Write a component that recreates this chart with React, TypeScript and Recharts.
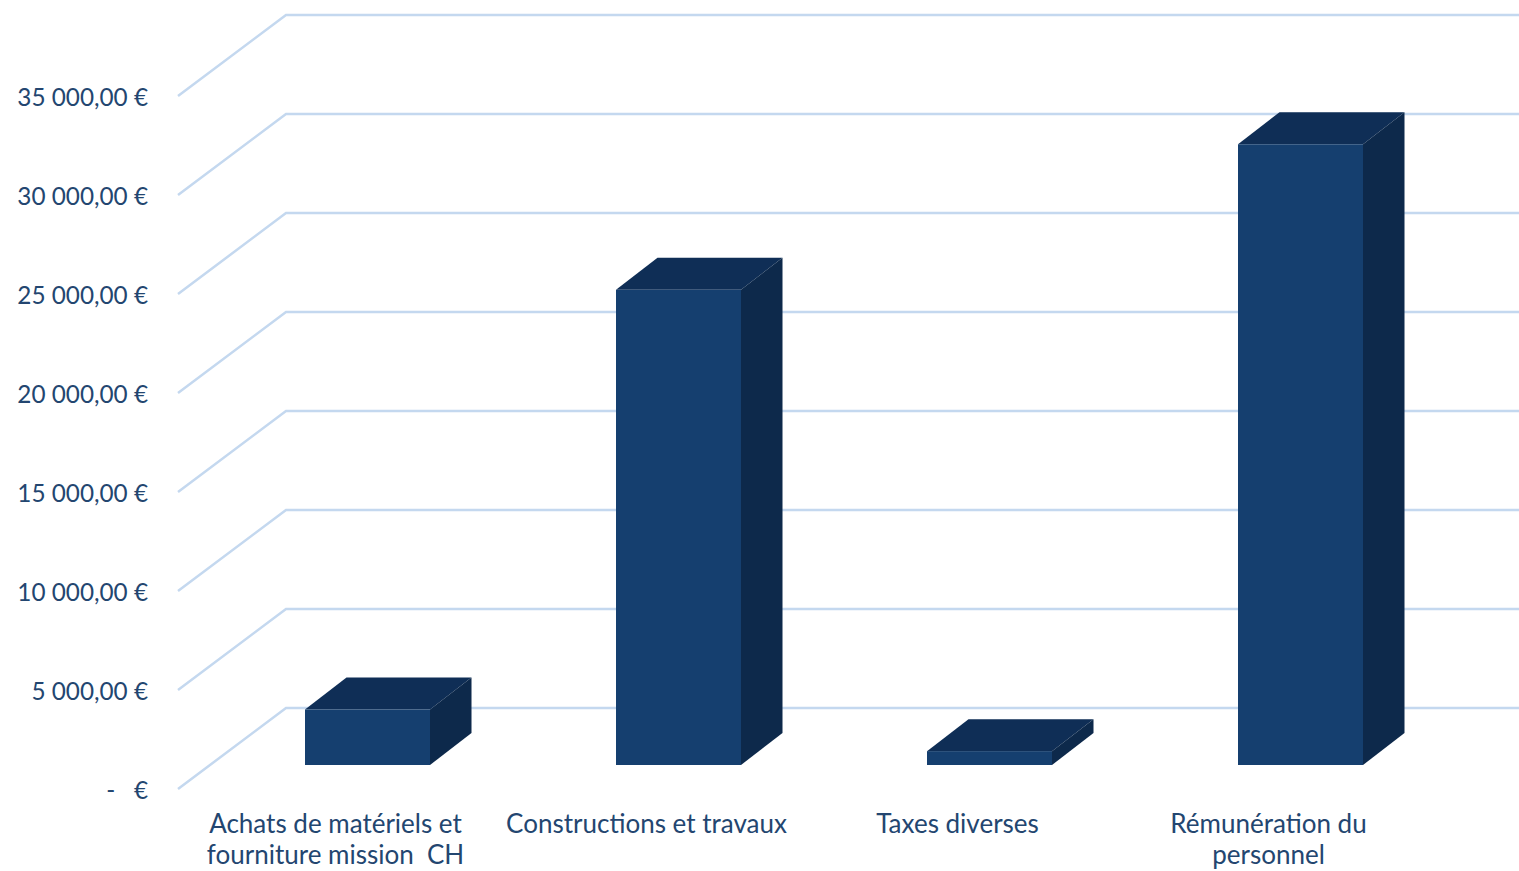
import React from 'react';
import { BarChart, Bar, XAxis, YAxis, CartesianGrid } from 'recharts';

const categories = [
  'Achats de matériels et fourniture mission  CH',
  'Constructions et travaux',
  'Taxes diverses',
  'Rémunération du personnel',
];
const categoryLines = [
  ['Achats de matériels et', 'fourniture mission  CH'],
  ['Constructions et travaux'],
  ['Taxes diverses'],
  ['Rémunération du', 'personnel'],
];
const amounts = [2800, 24000, 700, 31350];
const yTicks = [0, 5000, 10000, 15000, 20000, 25000, 30000, 35000];

const data = categories.map((c, i) => ({ name: c, value: amounts[i] }));

const W = 1519;
const H = 871;
const FONT = 'Lato, "Open Sans", sans-serif';
const TEXT = '#234670';
const GRID = '#c4d8ef';
const DEPTH_X = 108;
const DEPTH_Y = 81;
const BAR_OFF_X = 32;
const BAR_OFF_Y = 24;
const BAR_DX = 41.5;
const BAR_DY = 32;
const FRONT = '#153f6f';
const TOP = '#0f2e56';
const SIDE = '#0d294b';

function formatEuro(v: number) {
  if (v === 0) return '-   €';
  const s = Math.round(v).toString().replace(/\B(?=(\d{3})+(?!\d))/g, ' ');
  return `${s},00 €`;
}

const gridLine = (p: any) => {
  const { x1, y1, key } = p;
  const x0 = x1 - 2;
  return (
    <path
      key={key}
      d={`M${x0},${y1} L${x0 + DEPTH_X},${y1 - DEPTH_Y} L${W},${y1 - DEPTH_Y}`}
      fill="none"
      stroke={GRID}
      strokeWidth={2.5}
    />
  );
};

const Bar3D = (p: any) => {
  const { x, y, width, height } = p;
  const fx = x + BAR_OFF_X;
  const fy = y - BAR_OFF_Y;
  const w = width;
  const h = height;
  return (
    <g>
      <polygon
        points={`${fx},${fy} ${fx + BAR_DX},${fy - BAR_DY} ${fx + w + BAR_DX},${fy - BAR_DY} ${fx + w},${fy}`}
        fill={TOP}
      />
      <polygon
        points={`${fx + w},${fy} ${fx + w + BAR_DX},${fy - BAR_DY} ${fx + w + BAR_DX},${fy + h - BAR_DY} ${fx + w},${fy + h}`}
        fill={SIDE}
      />
      <rect x={fx} y={fy} width={w} height={h} fill={FRONT} />
    </g>
  );
};

const XTick = (p: any) => {
  const { x, payload } = p;
  const idx = categories.indexOf(payload.value);
  const lines = categoryLines[idx] || [String(payload.value)];
  return (
    <text
      x={x}
      y={833}
      textAnchor="middle"
      fill={TEXT}
      fontFamily={FONT}
      fontSize={26}
      style={{ whiteSpace: 'pre' }}
    >
      {lines.map((l, i) => (
        <tspan key={i} x={x} dy={i === 0 ? 0 : 31}>
          {l}
        </tspan>
      ))}
    </text>
  );
};

const YTick = (p: any) => {
  const { y, payload } = p;
  return (
    <text
      x={148}
      y={y + 10}
      textAnchor="end"
      fill={TEXT}
      fontFamily={FONT}
      fontSize={24.3}
      style={{ whiteSpace: 'pre' }}
    >
      {formatEuro(payload.value)}
    </text>
  );
};

export default function App() {
  return (
    <div style={{ position: 'absolute', left: 0, top: 0, width: W, height: H, background: '#fff' }}>
      <BarChart
        width={W}
        height={H}
        data={data}
        margin={{ top: 96, right: 95, bottom: 0, left: 0 }}
        barSize={125}
      >
        <CartesianGrid horizontal={gridLine} vertical={false} />
        <XAxis
          dataKey="name"
          height={82}
          axisLine={false}
          tickLine={false}
          interval={0}
          tick={<XTick />}
        />
        <YAxis
          width={180}
          domain={[0, 35000]}
          ticks={yTicks}
          axisLine={false}
          tickLine={false}
          tick={<YTick />}
          allowDataOverflow
        />
        <Bar dataKey="value" isAnimationActive={false} shape={<Bar3D />} />
      </BarChart>
    </div>
  );
}
